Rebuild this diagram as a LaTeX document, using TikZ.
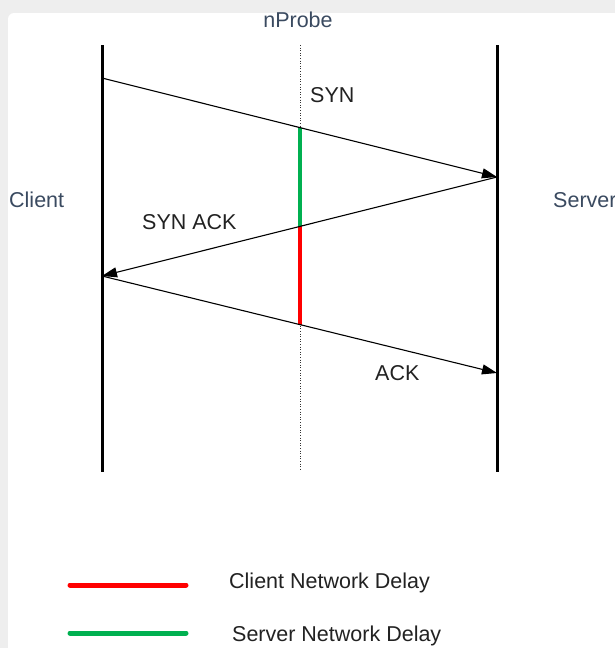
\documentclass[tikz,border=0pt]{standalone}
\usepackage{fontspec}
\setmainfont{Liberation Sans}
\usetikzlibrary{arrows.meta}
\definecolor{labblue}{HTML}{3A4A60}
\definecolor{labtext}{HTML}{222222}
\definecolor{cnd}{HTML}{FF0000}
\definecolor{snd}{HTML}{00B050}
\definecolor{shadow}{HTML}{EEEEEE}
\begin{document}
\begin{tikzpicture}[x=1pt,y=-1pt,
  lifeline/.style={line width=3pt,black},
  probeline/.style={line width=0.6pt,dotted,black!80},
  msg/.style={line width=1.1pt,black,-{Triangle[length=15pt,width=10pt]}},
  delay/.style={line width=4pt},
  legendline/.style={line width=5pt,line cap=round},
  lbl/.style={font=\fontsize{21.5}{25}\selectfont,text=labtext,inner sep=0pt},
  actor/.style={font=\fontsize{21.5}{25}\selectfont,text=labblue,inner sep=0pt}]
\useasboundingbox (0,0) rectangle (615,648);
\fill[shadow] (0,0) rectangle (615,648);
\fill[white,rounded corners=6pt] (8,13) rectangle (640,680);
% lifelines
\coordinate (ctop) at (102,45);
\coordinate (cbot) at (102,472);
\coordinate (stop) at (497,45);
\coordinate (sbot) at (497,472);
\coordinate (ptop) at (300,45);
\coordinate (pbot) at (300,470);
\draw[lifeline] (ctop) -- (cbot);
\draw[lifeline] (stop) -- (sbot);
\draw[probeline] (ptop) -- (pbot);
% message points
\coordinate (c1) at (102,78);
\coordinate (s1) at (497,177);
\coordinate (c2) at (102,276);
\coordinate (s2) at (497,373);
\coordinate (p1) at (300,127.6);
\coordinate (p2) at (300,226.4);
\coordinate (p3) at (300,324.6);
\draw[delay,snd] (p1) -- (p2);
\draw[delay,cnd] (p2) -- (p3);
\draw[msg] (c1) -- (s1);
\draw[msg] (s1) -- (c2);
\draw[msg] (c2) -- (s2);
% labels
\node[actor] (nprobe) at (298,20) {nProbe};
\node[actor,anchor=west] (client) at (9,200) {Client};
\node[actor,anchor=west] (server) at (553,200) {Server};
\node[lbl,anchor=west] (syn) at (310,95) {SYN};
\node[lbl,anchor=west] (synack) at (142,222) {SYN ACK};
\node[lbl,anchor=west] (ack) at (375,373) {ACK};
% legend
\coordinate (l1a) at (70,585);
\coordinate (l1b) at (186,585);
\coordinate (l2a) at (70,633);
\coordinate (l2b) at (186,633);
\draw[legendline,cnd] (l1a) -- (l1b);
\draw[legendline,snd] (l2a) -- (l2b);
\node[lbl,anchor=west] (cndtext) at (229,583) {Client Network Delay};
\node[lbl,anchor=west] (sndtext) at (232,636) {Server Network Delay};
\end{tikzpicture}
\end{document}
